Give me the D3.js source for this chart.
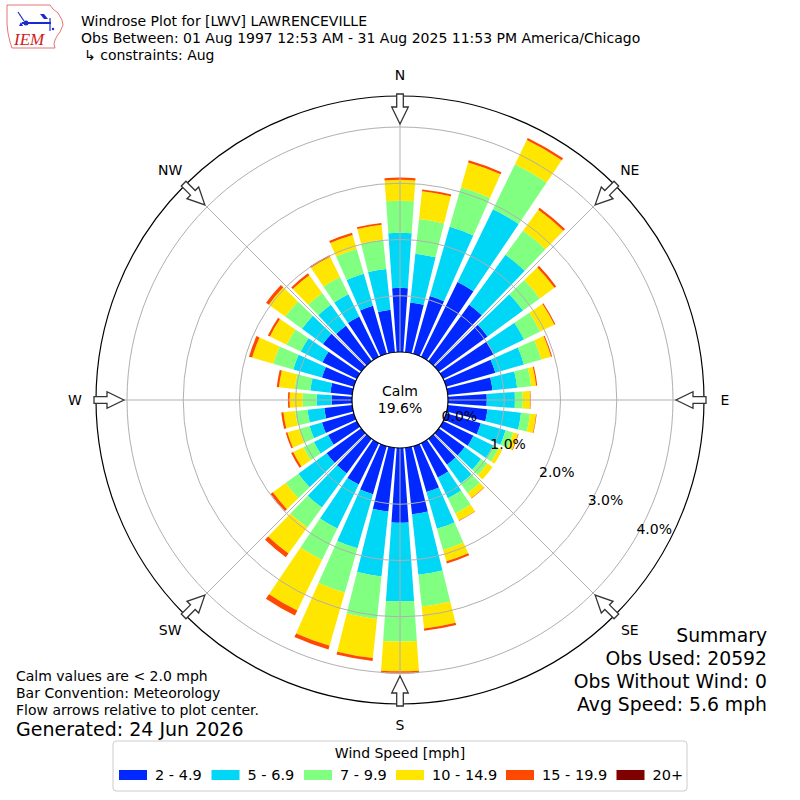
<!DOCTYPE html>
<html>
<head>
<meta charset="utf-8">
<script src="https://cdn.jsdelivr.net/npm/d3@7"></script>
<style>
  body { margin: 0; background: #fff; }
  svg { display: block; font-family: "DejaVu Sans", sans-serif; }
</style>
</head>
<body>
<div id="chart"></div>
<script>
// direction the wind blows from, degrees
const directions = [0, 10, 20, 30, 40, 50, 60, 70, 80, 90, 100, 110,
                    120, 130, 140, 150, 160, 170, 180, 190, 200, 210, 220, 230,
                    240, 250, 260, 270, 280, 290, 300, 310, 320, 330, 340, 350]

const speedBins = ["2 - 4.9", "5 - 6.9", "7 - 9.9", "10 - 14.9", "15 - 19.9", "20+"]
const binColors = ["#0028ff", "#00d6f6", "#80ff80", "#ffe600", "#ff4800", "#800000"]

// frequency (%) per direction for each speed bin
const spd2to5 = [1.14, 0.89, 1.07, 1.48, 1.24, 1.07, 1.00, 0.91, 0.80, 0.69, 0.71, 0.64,
                 0.60, 0.57, 0.57, 0.68, 0.85, 1.19, 1.33, 1.14, 0.89, 0.82, 0.76, 0.76,
                 0.57, 0.59, 0.50, 0.36, 0.39, 0.59, 0.68, 0.84, 0.78, 0.80, 0.89, 0.76]
const spd5to7 = [0.98, 0.87, 1.28, 1.44, 1.10, 0.78, 0.60, 0.53, 0.44, 0.50, 0.60, 0.46,
                 0.39, 0.36, 0.41, 0.41, 0.68, 1.08, 1.40, 1.16, 1.00, 0.87, 0.75, 0.62,
                 0.28, 0.23, 0.30, 0.27, 0.36, 0.53, 0.43, 0.46, 0.46, 0.44, 0.59, 0.73]
const spd7to10 = [0.57, 0.62, 0.73, 0.89, 0.53, 0.37, 0.32, 0.32, 0.25, 0.14, 0.16, 0.14,
                  0.11, 0.14, 0.21, 0.30, 0.39, 0.57, 0.71, 0.76, 0.82, 0.62, 0.44, 0.28,
                  0.21, 0.19, 0.22, 0.25, 0.28, 0.37, 0.28, 0.37, 0.26, 0.34, 0.46, 0.52]
const spd10to15 = [0.37, 0.50, 0.46, 0.48, 0.46, 0.32, 0.28, 0.18, 0.09, 0.13, 0.11, 0.09,
                   0.07, 0.11, 0.11, 0.14, 0.21, 0.39, 0.53, 0.70, 0.98, 1.00, 0.57, 0.28,
                   0.20, 0.22, 0.21, 0.23, 0.28, 0.39, 0.33, 0.36, 0.39, 0.40, 0.26, 0.27]
const spd15to20 = [0.04, 0.03, 0.04, 0.04, 0.04, 0.04, 0.02, 0.02, 0.02, 0.01, 0.01, 0.01,
                   0.00, 0.00, 0.01, 0.01, 0.04, 0.04, 0.04, 0.05, 0.07, 0.10, 0.08, 0.05,
                   0.04, 0.03, 0.04, 0.03, 0.04, 0.06, 0.04, 0.06, 0.04, 0.03, 0.04, 0.03]
const spd20up = [0, 0, 0, 0, 0, 0, 0, 0, 0, 0, 0, 0,
                 0, 0, 0, 0, 0, 0, 0, 0, 0, 0, 0, 0,
                 0, 0, 0, 0, 0, 0, 0, 0, 0, 0, 0, 0]

const radialTicks = [0, 1, 2, 3, 4]
const compass = [{label: "N", deg: 0}, {label: "NE", deg: 45}, {label: "E", deg: 90},
                 {label: "SE", deg: 135}, {label: "S", deg: 180}, {label: "SW", deg: 225},
                 {label: "W", deg: 270}, {label: "NW", deg: 315}]

const calmPct = "19.6%"
const titleLines = ["Windrose Plot for [LWV] LAWRENCEVILLE",
                    "Obs Between: 01 Aug 1997 12:53 AM - 31 Aug 2025 11:53 PM America/Chicago",
                    "\u21b3 constraints: Aug"]
const noteLines = ["Calm values are < 2.0 mph", "Bar Convention: Meteorology",
                   "Flow arrows relative to plot center."]
const summaryLines = ["Summary", "Obs Used: 20592", "Obs Without Wind: 0", "Avg Speed: 5.6 mph"]

let W = 800, H = 800,
    cx = 400, cy = 400,
    calmR = 48, outerR = 304

let svg = d3.select("#chart").append("svg")
            .attr("width", W).attr("height", H)

let rows = directions.map(function(d, i) {
  return {dir: d, b0: spd2to5[i], b1: spd5to7[i], b2: spd7to10[i],
          b3: spd10to15[i], b4: spd15to20[i], b5: spd20up[i]}
})
let keys = ["b0", "b1", "b2", "b3", "b4", "b5"]
let stacked = d3.stack().keys(keys)(rows)

let r = d3.scaleLinear().domain([0, 4]).range([calmR, 273])
let ang = d3.scaleLinear().domain([0, 360]).range([0, 2 * Math.PI])
let halfW = 4 // degrees, bars fill 80% of a 10 degree sector

let plot = svg.append("g").attr("transform", "translate(" + cx + "," + cy + ")")

let arc = d3.arc()

// bars
stacked.forEach(function(layer, k) {
  plot.append("g").selectAll("path")
      .data(layer)
      .join("path")
      .attr("fill", binColors[k])
      .attr("d", function(d) {
        if (d[1] - d[0] <= 0) return null
        return arc({innerRadius: r(d[0]), outerRadius: r(d[1]),
                    startAngle: ang(d.data.dir - halfW), endAngle: ang(d.data.dir + halfW)})
      })
})

// grid on top of bars
plot.append("g").selectAll("circle")
    .data(radialTicks.filter(function(v) { return v > 0 }))
    .join("circle")
    .attr("r", function(v) { return r(v) })
    .attr("fill", "none").attr("stroke", "#b0b0b0").attr("stroke-width", 1)

plot.append("g").selectAll("line")
    .data(compass)
    .join("line")
    .attr("x1", function(d) { return calmR * Math.sin(ang(d.deg)) })
    .attr("y1", function(d) { return -calmR * Math.cos(ang(d.deg)) })
    .attr("x2", function(d) { return outerR * Math.sin(ang(d.deg)) })
    .attr("y2", function(d) { return -outerR * Math.cos(ang(d.deg)) })
    .attr("stroke", "#b0b0b0").attr("stroke-width", 1)

plot.append("circle").attr("r", outerR)
    .attr("fill", "none").attr("stroke", "#000").attr("stroke-width", 1.2)

// calm circle
plot.append("circle").attr("r", calmR)
    .attr("fill", "#fff").attr("stroke", "#000").attr("stroke-width", 1.2)
plot.append("text").attr("text-anchor", "middle").attr("y", -4)
    .attr("font-size", 14).text("Calm")
plot.append("text").attr("text-anchor", "middle").attr("y", 13)
    .attr("font-size", 14).text(calmPct)

// radial tick labels along 120 deg
let labAng = ang(120)
plot.append("g").selectAll("text")
    .data(radialTicks)
    .join("text")
    .attr("x", function(v) { return r(v) * Math.sin(labAng) })
    .attr("y", function(v) { return -r(v) * Math.cos(labAng) - 3 })
    .attr("font-size", 14)
    .text(function(v) { return v.toFixed(1) + "%" })

// inward flow arrows at the compass points
function arrowPath(deg) {
  let t = ang(deg), s = Math.sin(t), c = Math.cos(t)
  let pts = [[276, 0], [293, 8.3], [293, 3.3], [306, 3.3], [306, -3.3], [293, -3.3], [293, -8.3]]
  return "M" + pts.map(function(p) {
    return [p[0] * s + p[1] * c, -p[0] * c + p[1] * s].join(",")
  }).join("L") + "Z"
}
plot.append("g").selectAll("path")
    .data(compass)
    .join("path")
    .attr("d", function(d) { return arrowPath(d.deg) })
    .attr("fill", "#fff").attr("stroke", "#333").attr("stroke-width", 1.3)

plot.append("g").selectAll("text")
    .data(compass)
    .join("text")
    .attr("x", function(d) { return 325 * Math.sin(ang(d.deg)) })
    .attr("y", function(d) { return -325 * Math.cos(ang(d.deg)) + 5 })
    .attr("text-anchor", "middle").attr("font-size", 14)
    .text(function(d) { return d.label })

// header
svg.append("g").selectAll("text")
   .data(titleLines)
   .join("text")
   .attr("x", function(d, i) { return i == 2 ? 84 : 81 })
   .attr("y", function(d, i) { return 26 + i * 17 })
   .attr("font-size", 14)
   .text(function(d) { return d })

// IEM logo
let logo = svg.append("g")
logo.append("path")
    .attr("d", "M7,5 L50,5 L53,9 L58,13 L62,20 L63,25 L60,32 L57,36 L55,40 L54,44 L55,48 L12,48 L10,42 L8,33 L7,24 Z")
    .attr("fill", "none").attr("stroke", "#e05050").attr("stroke-width", 0.8)
logo.append("text").attr("x", 14).attr("y", 45)
    .attr("font-family", "Liberation Serif, serif").attr("font-style", "italic")
    .attr("font-size", 17).attr("fill", "#d02020").text("IEM")
logo.append("line").attr("x1", 22).attr("y1", 23).attr("x2", 51).attr("y2", 23)
    .attr("stroke", "#1a2ad0").attr("stroke-width", 2)
logo.append("line").attr("x1", 18).attr("y1", 12).attr("x2", 24).attr("y2", 21)
    .attr("stroke", "#1a2ad0").attr("stroke-width", 1.2)
logo.append("circle").attr("cx", 26).attr("cy", 23).attr("r", 2.5).attr("fill", "#1a2ad0")
logo.append("path").attr("d", "M19,26 L21,22 L23,26 Z").attr("fill", "#1a2ad0")
logo.append("path").attr("d", "M40,14 L44,14 L48,19 L44,19 Z").attr("fill", "#1a2ad0")
logo.append("line").attr("x1", 50).attr("y1", 18).attr("x2", 50).attr("y2", 31)
    .attr("stroke", "#1a2ad0").attr("stroke-width", 1.2)
logo.append("circle").attr("cx", 53).attr("cy", 29).attr("r", 1.2).attr("fill", "#1a2ad0")

// notes bottom-left
svg.append("g").selectAll("text")
   .data(noteLines)
   .join("text")
   .attr("x", 16).attr("y", function(d, i) { return 681 + i * 17 })
   .attr("font-size", 14)
   .text(function(d) { return d })
svg.append("text").attr("x", 16).attr("y", 736).attr("font-size", 19)
   .text("Generated: 24 Jun 2026")

// summary bottom-right
svg.append("g").selectAll("text")
   .data(summaryLines)
   .join("text")
   .attr("x", 767).attr("y", function(d, i) { return 642 + i * 23 })
   .attr("text-anchor", "end").attr("font-size", 18.8)
   .text(function(d) { return d })

// legend
let leg = svg.append("g")
leg.append("rect").attr("x", 113).attr("y", 741).attr("width", 574).attr("height", 50)
   .attr("rx", 3).attr("fill", "#fff").attr("stroke", "#cccccc")
leg.append("text").attr("x", 400).attr("y", 758).attr("text-anchor", "middle")
   .attr("font-size", 14).text("Wind Speed [mph]")
let legX = [119, 211.5, 304, 396, 506, 616.5]
let items = leg.selectAll("g.item")
               .data(speedBins)
               .join("g")
               .attr("class", "item")
               .attr("transform", function(d, i) { return "translate(" + legX[i] + ",770)" })
items.append("rect").attr("width", 28).attr("height", 10)
     .attr("fill", function(d, i) { return binColors[i] })
items.append("text").attr("x", 36).attr("y", 10).attr("font-size", 14.5)
     .text(function(d) { return d })
</script>
</body>
</html>
